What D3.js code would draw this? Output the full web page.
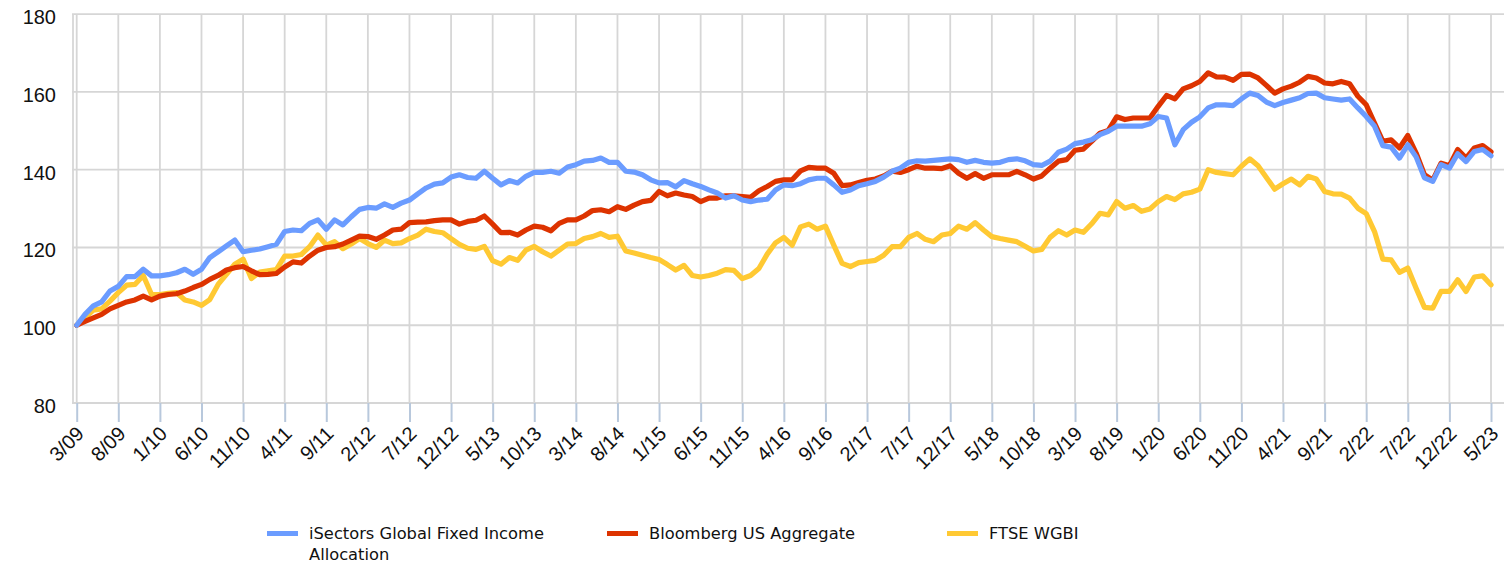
<!DOCTYPE html>
<html>
<head>
<meta charset="utf-8">
<script src="https://cdn.jsdelivr.net/npm/d3@7"></script>
<style>
  html, body { margin: 0; padding: 0; background: #ffffff; }
  svg { display: block; }
</style>
</head>
<body>
<svg id="chart" width="1510" height="565"></svg>
<script>
// ---------- DATA ----------
const startYear = 2009, startMonth = 3, monthCount = 171; // 3/09 .. 5/23
const tickLabels = ["3/09","8/09","1/10","6/10","11/10","4/11","9/11","2/12","7/12","12/12",
  "5/13","10/13","3/14","8/14","1/15","6/15","11/15","4/16","9/16","2/17","7/17","12/17",
  "5/18","10/18","3/19","8/19","1/20","6/20","11/20","4/21","9/21","2/22","7/22","12/22","5/23"];
const yTicks = [80, 100, 120, 140, 160, 180];
const seriesNames = ["iSectors Global Fixed Income Allocation", "Bloomberg US Aggregate", "FTSE WGBI"];

const iSectors = [
  100,102.8,105,106,108.8,110,112.5,112.5,114.4,112.7,
  112.7,113,113.5,114.4,113.1,114.4,117.4,118.9,120.4,121.9,
  118.9,119.3,119.6,120.2,120.8,124.1,124.5,124.3,126.2,127.1,
  124.7,127.1,125.8,127.9,129.8,130.3,130.1,131.2,130.3,131.4,
  132.2,133.8,135.3,136.3,136.6,138.1,138.7,138.0,137.8,139.6,
  137.8,136.1,137.2,136.6,138.3,139.3,139.3,139.6,139.1,140.7,
  141.3,142.2,142.4,143,141.9,141.9,139.6,139.4,138.7,137.4,
  136.6,136.7,135.6,137.2,136.4,135.7,134.8,134,132.7,133.3,
  132.2,131.8,132.2,132.4,134.8,136.1,135.9,136.4,137.4,137.8,
  137.8,136.1,134.2,134.8,135.9,136.4,137,138.1,139.6,140.4,
  141.9,142.3,142.2,142.4,142.6,142.8,142.6,141.9,142.4,141.9,
  141.7,141.9,142.6,142.8,142.3,141.3,141.1,142.2,144.5,145.3,
  146.7,147.1,147.7,149,149.9,151.2,151.2,151.2,151.2,151.8,
  153.7,153.3,146.4,150.3,152.2,153.6,155.9,156.7,156.7,156.5,
  158.2,159.7,159.1,157.4,156.5,157.3,157.9,158.5,159.6,159.7,
  158.5,158.2,157.9,158.2,155.9,153.7,151.2,146.2,145.8,143,
  146.4,143.3,137.9,137,141.3,140.4,144.1,142.1,144.7,145.2,
  143.6
];
const bloomberg = [
  100,101,101.9,102.8,104.2,105.1,106,106.5,107.5,106.5,
  107.5,107.9,108.1,108.8,109.7,110.5,111.8,112.8,114.2,114.8,
  115.1,114,113,113.1,113.3,115,116.3,116,117.8,119.3,
  120,120.2,120.9,121.9,122.9,122.8,122.1,123.2,124.5,124.7,
  126.4,126.5,126.6,126.9,127.1,127.1,126,126.7,127,128.1,
  126,123.8,123.9,123.2,124.5,125.5,125.2,124.3,126.2,127.1,
  127.1,128.1,129.5,129.7,129.2,130.5,129.8,130.9,131.8,132.1,
  134.4,133.3,134,133.5,133.1,131.8,132.7,132.7,133.3,133.3,
  133.1,132.9,134.6,135.7,137,137.4,137.4,139.7,140.6,140.4,
  140.4,139.1,135.9,136.1,136.7,137.3,137.6,138.4,139.6,139.3,
  140,140.9,140.4,140.4,140.3,141,139.1,137.8,139,137.8,
  138.7,138.7,138.7,139.6,138.7,137.6,138.4,140.4,142.2,142.6,
  145,145.3,147.3,149.4,150.1,153.6,152.9,153.3,153.3,153.3,
  156.3,159.1,158.2,160.8,161.6,162.7,164.9,163.9,163.8,163,
  164.5,164.6,163.6,161.7,159.7,160.8,161.5,162.5,164,163.6,
  162.3,162.1,162.7,162.1,158.9,156.7,152,147.3,147.7,145.6,
  148.8,144.3,138.7,137.3,141.7,141,145.2,143,145.6,146.2,
  144.6
];
const ftseWGBI = [
  100,101.9,103.9,104.2,106.2,108.4,110.3,110.5,112.8,107.9,
  107.9,108.2,108.4,106.5,106,105.1,106.6,110.5,113.1,115.7,
  117,112,113.7,114,114.3,117.8,117.8,118.2,120.2,123.2,
  120.6,121.5,119.7,120.9,122.3,121,120,121.9,121,121.2,
  122.3,123.2,124.7,124.1,123.8,122.3,120.8,119.8,119.5,120.3,
  116.6,115.7,117.4,116.7,119.3,120.3,118.9,117.8,119.3,120.9,
  121,122.3,122.8,123.6,122.6,122.9,119.1,118.6,118,117.4,
  116.9,115.6,114.2,115.4,112.8,112.4,112.8,113.4,114.3,114.1,
  112,112.8,114.6,118.3,121.2,122.6,120.6,125.3,126,124.7,
  125.5,120.6,115.9,115.1,116.1,116.4,116.7,118,120.2,120.2,
  122.6,123.6,122.1,121.5,123.2,123.6,125.5,124.7,126.4,124.5,
  122.8,122.3,121.9,121.5,120.3,119.1,119.5,122.6,124.3,123.2,
  124.5,123.9,126.1,128.8,128.4,131.8,130.1,130.8,129.3,129.9,
  131.8,133.1,132.3,133.8,134.2,135,140,139.3,139,138.7,
  140.9,142.8,141,138,135,136.4,137.6,136.1,138.3,137.6,
  134.4,133.8,133.7,132.7,130.1,128.7,124.1,117,116.8,113.6,
  114.7,109.5,104.6,104.4,108.7,108.7,111.7,108.7,112.4,112.7,
  110.4
];

// month labels (categories)
const months = d3.range(monthCount).map(i => {
  const m = (startMonth - 1 + i) % 12 + 1;
  const y = startYear + Math.floor((startMonth - 1 + i) / 12);
  return m + "/" + String(y % 100).padStart(2, "0");
});

[iSectors, bloomberg, ftseWGBI].forEach((s, k) => {
  if (s.length !== monthCount) throw new Error("series " + k + " has " + s.length + " values");
});

// ---------- CHART ----------
const colors = ["#6b9cff", "#dd3300", "#ffc933"];
const series = [iSectors, bloomberg, ftseWGBI];

const svg = d3.select("#chart");
const plotLeft = 72, plotRight = 1504, plotTop = 13, plotBottom = 403;

const x = d3.scalePoint().domain(months).range([76.7, 1491]);
const y = d3.scaleLinear().domain([80, 180]).range([403, 14.2]);

const gridColor = "#d6d6d6";

// horizontal gridlines
svg.append("g").selectAll("line").data(yTicks).join("line")
  .attr("x1", plotLeft).attr("x2", plotRight)
  .attr("y1", d => y(d)).attr("y2", d => y(d))
  .attr("stroke", gridColor).attr("stroke-width", 1.8);

// left border line
svg.append("line")
  .attr("x1", 73).attr("x2", 73).attr("y1", y(180)).attr("y2", plotBottom)
  .attr("stroke", gridColor).attr("stroke-width", 1.8);

// vertical gridlines at tick months
svg.append("g").selectAll("line").data(tickLabels).join("line")
  .attr("x1", d => x(d)).attr("x2", d => x(d))
  .attr("y1", y(180)).attr("y2", plotBottom)
  .attr("stroke", gridColor).attr("stroke-width", 1.8);

// x axis via d3.axisBottom
const xAxis = d3.axisBottom(x).tickValues(tickLabels).tickSize(19).tickSizeOuter(0).tickPadding(0);
const gx = svg.append("g").attr("transform", `translate(0,${plotBottom})`).call(xAxis);
gx.select(".domain").remove();
gx.selectAll(".tick line").attr("stroke", "#b8c8dc").attr("stroke-width", 2);
gx.selectAll(".tick text")
  .attr("font-family", "'Liberation Sans', Arial, sans-serif")
  .attr("font-size", 20)
  .attr("fill", "#111")
  .attr("text-anchor", "end")
  .attr("y", 0).attr("dy", 0)
  .attr("transform", "translate(8,32) rotate(-45)");

// y axis labels
const yAxis = d3.axisLeft(y).tickValues(yTicks).tickSize(0).tickPadding(0);
const gy = svg.append("g").attr("transform", "translate(56,0)").call(yAxis);
gy.select(".domain").remove();
gy.selectAll(".tick text")
  .attr("font-family", "'Liberation Sans', Arial, sans-serif")
  .attr("font-size", 20)
  .attr("fill", "#111")
  .attr("x", 0)
  .attr("dy", "0.72em")
  .attr("y", -5);

// lines
const line = d3.line().x((d, i) => x(months[i])).y(d => y(d)).curve(d3.curveLinear);
const order = [2, 1, 0];
svg.append("g").selectAll("path").data(order).join("path")
  .attr("d", k => line(series[k]))
  .attr("fill", "none")
  .attr("stroke", k => colors[k])
  .attr("stroke-width", 5.2)
  .attr("stroke-linejoin", "round")
  .attr("stroke-linecap", "round");

// legend
const legendItems = [
  { lines: ["iSectors Global Fixed Income", "Allocation"], x: 267 },
  { lines: ["Bloomberg US Aggregate"], x: 607 },
  { lines: ["FTSE WGBI"], x: 947 }
];
const lg = svg.append("g");
legendItems.forEach((it, k) => {
  lg.append("rect").attr("x", it.x).attr("y", 531).attr("width", 31).attr("height", 5)
    .attr("fill", colors[k]);
  const t = lg.append("text")
    .attr("x", it.x + 42).attr("y", 539)
    .attr("font-family", "'DejaVu Sans', Verdana, sans-serif")
    .attr("font-size", 16.3).attr("fill", "#111");
  it.lines.forEach((ln, j) => {
    t.append("tspan").attr("x", it.x + 42).attr("dy", j === 0 ? 0 : 21).text(ln);
  });
});
</script>
</body>
</html>
